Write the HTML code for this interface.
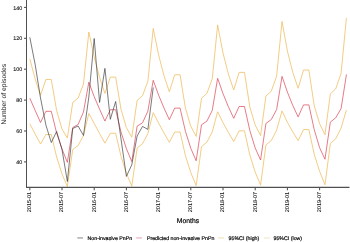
<!DOCTYPE html>
<html><head><meta charset="utf-8"><style>
html,body{margin:0;padding:0;background:#fff;width:350px;height:242px;overflow:hidden}
svg{display:block}
text{stroke-width:0.18px;paint-order:stroke}
.tl{stroke:#111;stroke-width:0.07px} .tly{stroke:#111;stroke-width:0.1px} .tt{stroke:#000} .lg{stroke:#000}
.ln{fill:none;stroke-width:0.9;stroke-linejoin:round}
.ci{stroke:#f0bf66;stroke-width:0.8}
.rd{stroke:#dc4858;stroke-width:0.72}
.bk{stroke:#333;stroke-width:0.65}
.ax{stroke:#505050;stroke-width:1.05}
text{font-family:"Liberation Sans",Arial,sans-serif;text-rendering:geometricPrecision}
.tl{font-size:5.6px;fill:#111}
.tly{font-size:5.4px;fill:#111}
.tt{font-size:6.8px;fill:#000}
.tty{fill:#1a1a1a;stroke:none}
.lg{font-size:5.25px;fill:#000}
</style></head><body>
<svg width="350" height="242" viewBox="0 0 350 242">
<rect width="350" height="242" fill="#fff"/>
<polyline points="29.80,58.80 35.17,79.00 40.53,95.20 45.90,79.50 51.27,79.50 56.63,110.50 62.00,129.00 67.37,138.00 72.73,102.50 78.10,98.00 83.47,84.00 88.83,32.00 94.20,56.87 99.57,77.33 104.93,93.47 110.30,77.13 115.67,77.13 121.03,109.33 126.40,127.67 131.77,137.20 137.13,100.33 142.50,95.73 147.87,81.33 153.23,28.47 158.60,54.93 163.97,75.67 169.33,91.73 174.70,74.77 180.07,74.77 185.43,108.17 190.80,126.33 196.17,136.40 201.53,98.17 206.90,93.47 212.27,78.67 217.63,24.93 223.00,53.00 228.37,74.00 233.73,90.00 239.10,72.40 244.47,72.40 249.83,107.00 255.20,125.00 260.57,135.60 265.93,96.00 271.30,91.20 276.67,76.00 282.03,21.40 287.40,51.07 292.77,72.33 298.13,88.27 303.50,70.03 308.87,70.03 314.24,105.83 319.60,123.67 324.97,134.80 330.34,93.83 335.70,88.93 341.07,73.33 346.44,17.87" class="ln ci"/>
<polyline points="29.80,123.80 35.17,134.00 40.53,144.00 45.90,134.50 51.27,134.50 56.63,157.00 62.00,174.00 67.37,186.50 72.73,149.50 78.10,145.50 83.47,135.50 88.83,113.50 94.20,123.43 99.57,133.47 104.93,143.17 110.30,133.27 115.67,133.27 121.03,156.33 126.40,173.33 131.77,186.07 137.13,148.00 142.50,143.83 147.87,133.67 153.23,112.63 158.60,123.07 163.97,132.93 169.33,142.33 174.70,132.03 180.07,132.03 185.43,155.67 190.80,172.67 196.17,185.63 201.53,146.50 206.90,142.17 212.27,131.83 217.63,111.77 223.00,122.70 228.37,132.40 233.73,141.50 239.10,130.80 244.47,130.80 249.83,155.00 255.20,172.00 260.57,185.20 265.93,145.00 271.30,140.50 276.67,130.00 282.03,110.90 287.40,122.33 292.77,131.87 298.13,140.67 303.50,129.57 308.87,129.57 314.24,154.33 319.60,171.33 324.97,184.77 330.34,143.50 335.70,138.83 341.07,128.17 346.44,110.03" class="ln ci"/>
<polyline points="29.80,98.20 35.17,110.40 40.53,122.50 45.90,111.30 51.27,111.30 56.63,133.00 62.00,149.00 67.37,162.30 72.73,127.50 78.10,124.50 83.47,112.00 88.83,82.20 94.20,96.67 99.57,109.17 104.93,121.10 110.30,109.70 115.67,109.70 121.03,132.17 126.40,148.67 131.77,161.53 137.13,126.17 142.50,122.83 147.87,111.17 153.23,80.27 158.60,95.13 163.97,107.93 169.33,119.70 174.70,108.10 180.07,108.10 185.43,131.33 190.80,148.33 196.17,160.77 201.53,124.83 206.90,121.17 212.27,110.33 217.63,78.33 223.00,93.60 228.37,106.70 233.73,118.30 239.10,106.50 244.47,106.50 249.83,130.50 255.20,148.00 260.57,160.00 265.93,123.50 271.30,119.50 276.67,109.50 282.03,76.40 287.40,92.07 292.77,105.47 298.13,116.90 303.50,104.90 308.87,104.90 314.24,129.67 319.60,147.67 324.97,159.23 330.34,122.17 335.70,117.83 341.07,108.67 346.44,74.47" class="ln rd"/>
<polyline points="29.80,37.30 35.17,64.50 40.53,98.00 45.90,125.00 51.27,142.50 56.63,131.50 62.00,149.50 67.37,181.50 72.73,128.50 78.10,126.00 83.47,135.50 88.83,97.00 94.20,38.50 99.57,102.40 104.93,68.40 110.30,119.30 115.67,101.50 121.03,139.00 126.40,176.40 131.77,164.80 137.13,136.00 142.50,126.40 147.87,129.40 153.23,87.50" class="ln bk"/>
<line x1="26.50" y1="0" x2="26.50" y2="187.85" class="ax"/>
<line x1="26.00" y1="187.35" x2="349.5" y2="187.35" class="ax"/>
<line x1="24.00" y1="161.90" x2="26.50" y2="161.90" class="ax"/>
<text x="22.2" y="164.00" class="tly" text-anchor="end">40</text>
<line x1="24.00" y1="131.00" x2="26.50" y2="131.00" class="ax"/>
<text x="22.2" y="133.10" class="tly" text-anchor="end">60</text>
<line x1="24.00" y1="100.10" x2="26.50" y2="100.10" class="ax"/>
<text x="22.2" y="102.20" class="tly" text-anchor="end">80</text>
<line x1="24.00" y1="69.20" x2="26.50" y2="69.20" class="ax"/>
<text x="22.2" y="71.30" class="tly" text-anchor="end">100</text>
<line x1="24.00" y1="38.30" x2="26.50" y2="38.30" class="ax"/>
<text x="22.2" y="40.40" class="tly" text-anchor="end">120</text>
<line x1="24.00" y1="7.40" x2="26.50" y2="7.40" class="ax"/>
<text x="22.2" y="9.50" class="tly" text-anchor="end">140</text>
<line x1="29.80" y1="187.35" x2="29.80" y2="190.15" class="ax"/>
<text transform="translate(31.20,191.8) rotate(-90)" class="tl" text-anchor="end">2015-01</text>
<line x1="62.00" y1="187.35" x2="62.00" y2="190.15" class="ax"/>
<text transform="translate(63.40,191.8) rotate(-90)" class="tl" text-anchor="end">2015-07</text>
<line x1="94.20" y1="187.35" x2="94.20" y2="190.15" class="ax"/>
<text transform="translate(95.60,191.8) rotate(-90)" class="tl" text-anchor="end">2016-01</text>
<line x1="126.40" y1="187.35" x2="126.40" y2="190.15" class="ax"/>
<text transform="translate(127.80,191.8) rotate(-90)" class="tl" text-anchor="end">2016-07</text>
<line x1="158.60" y1="187.35" x2="158.60" y2="190.15" class="ax"/>
<text transform="translate(160.00,191.8) rotate(-90)" class="tl" text-anchor="end">2017-01</text>
<line x1="190.80" y1="187.35" x2="190.80" y2="190.15" class="ax"/>
<text transform="translate(192.20,191.8) rotate(-90)" class="tl" text-anchor="end">2017-07</text>
<line x1="223.00" y1="187.35" x2="223.00" y2="190.15" class="ax"/>
<text transform="translate(224.40,191.8) rotate(-90)" class="tl" text-anchor="end">2018-01</text>
<line x1="255.20" y1="187.35" x2="255.20" y2="190.15" class="ax"/>
<text transform="translate(256.60,191.8) rotate(-90)" class="tl" text-anchor="end">2018-07</text>
<line x1="287.40" y1="187.35" x2="287.40" y2="190.15" class="ax"/>
<text transform="translate(288.80,191.8) rotate(-90)" class="tl" text-anchor="end">2019-01</text>
<line x1="319.60" y1="187.35" x2="319.60" y2="190.15" class="ax"/>
<text transform="translate(321.00,191.8) rotate(-90)" class="tl" text-anchor="end">2019-07</text>
<text x="188" y="222.9" class="tt" text-anchor="middle">Months</text>
<text transform="translate(6.3,94.2) rotate(-90)" class="tt tty" text-anchor="middle">Number of episodes</text>
<line x1="77.3" y1="237.95" x2="83.0" y2="237.95" stroke="#8e8e8e" stroke-width="1.1"/>
<text x="87.5" y="239.6" class="lg">Non-invasive PnPn</text>
<line x1="136.2" y1="237.95" x2="142.0" y2="237.95" stroke="#e7a9b6" stroke-width="1.1"/>
<text x="146.9" y="239.6" class="lg">Predicted non-invasive PnPn</text>
<line x1="218.0" y1="237.95" x2="224.2" y2="237.95" stroke="#f3e0b8" stroke-width="1.1"/>
<text x="228.6" y="239.6" class="lg">95%CI (high)</text>
<line x1="264.0" y1="237.95" x2="269.8" y2="237.95" stroke="#f3e6c8" stroke-width="1.1"/>
<text x="273.5" y="239.6" class="lg">95%CI (low)</text>
</svg>
</body></html>
